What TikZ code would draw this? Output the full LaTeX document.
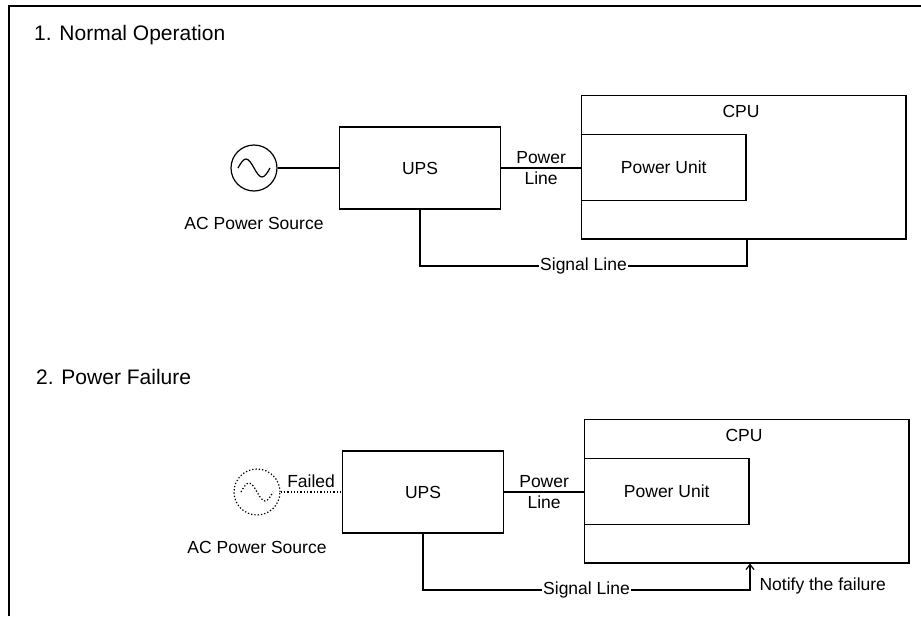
\documentclass[tikz,border=0pt]{standalone}
\usepackage{fontspec}
\setmainfont{Liberation Sans}
\usetikzlibrary{arrows.meta, positioning}

\begin{document}
\begin{tikzpicture}[
  x=1pt, y=-1pt,
  font=\fontsize{17.5}{20}\selectfont,
  box/.style={draw, line width=1.2pt, inner sep=0pt},
  source/.style={draw, circle, line width=1.2pt, minimum size=46pt, inner sep=0pt},
  wire/.style={line width=1.2pt},
  failed/.style={dash pattern=on 1.3pt off 2pt},
  title/.style={anchor=west, inner sep=0pt, font=\fontsize{21}{24}\selectfont}
]
  \useasboundingbox (0,0) rectangle (921,616);
  \draw[line width=1.6pt] (9,616) -- (9,6) -- (921,6);

  % 1. normal operation
  \node[title] (title1) at (34,35) {1. Normal Operation};
  \node[box, minimum width=324.5pt, minimum height=143.3pt] (cpu1) at (743.75,167.35) {};
  \node (cpulbl1) at (741,111) {CPU};
  \node[box, minimum width=164.5pt, minimum height=66pt, anchor=west] (pu1) at (cpu1.west) {Power Unit};
  \node[box, minimum width=161.5pt, minimum height=82pt] (ups1) at (420,168) {UPS};
  \node[source] (ac1) at (254,168) {};
  \draw[wire] ([xshift=-16pt]ac1.center) sin ++(8,-9) cos ++(8,9) sin ++(8,9) cos ++(8,-9);
  \node[below=22pt of ac1] (aclbl1) {AC Power Source};
  \draw[wire] (ac1) -- (ac1 -| ups1.west);
  \draw[wire] (ups1.east) -- node[above, inner sep=3.5pt] {Power} node[below, inner sep=3pt] {Line} (ups1.east -| pu1.west);
  \coordinate (sig1) at (747,266);
  \draw[wire] (ups1.south) |- node[pos=0.75, fill=white, inner sep=1pt] (siglbl1) {Signal Line} (sig1) -- (sig1 |- cpu1.south);

  % 2. power failure
  \node[title] (title2) at (36,377) {2. Power Failure};
  \begin{scope}[shift={(3,324)}]
    \node[box, minimum width=324.5pt, minimum height=143.3pt] (cpu2) at (743.75,167.35) {};
    \node (cpulbl2) at (741,111) {CPU};
    \node[box, minimum width=164.5pt, minimum height=66pt, anchor=west] (pu2) at (cpu2.west) {Power Unit};
    \node[box, minimum width=161.5pt, minimum height=82pt] (ups2) at (420,168) {UPS};
    \node[source, failed] (ac2) at (254,168) {};
    \draw[wire, failed] ([xshift=-16pt]ac2.center) sin ++(8,-9) cos ++(8,9) sin ++(8,9) cos ++(8,-9);
    \node[below=22pt of ac2] (aclbl2) {AC Power Source};
    \draw[wire, failed] (ac2) -- node[above, inner sep=4pt] (faillbl) {Failed} (ac2 -| ups2.west);
    \draw[wire] (ups2.east) -- node[above, inner sep=3.5pt] {Power} node[below, inner sep=3pt] {Line} (ups2.east -| pu2.west);
    \coordinate (sig2) at (747,266);
    \draw[wire, -{Straight Barb[length=5pt, width=8pt]}] (ups2.south) |- node[pos=0.75, fill=white, inner sep=1pt] (siglbl2) {Signal Line} (sig2) -- (sig2 |- cpu2.south);
    \node[right=6pt of sig2, yshift=4pt] (notify) {Notify the failure};
  \end{scope}
\end{tikzpicture}
\end{document}
